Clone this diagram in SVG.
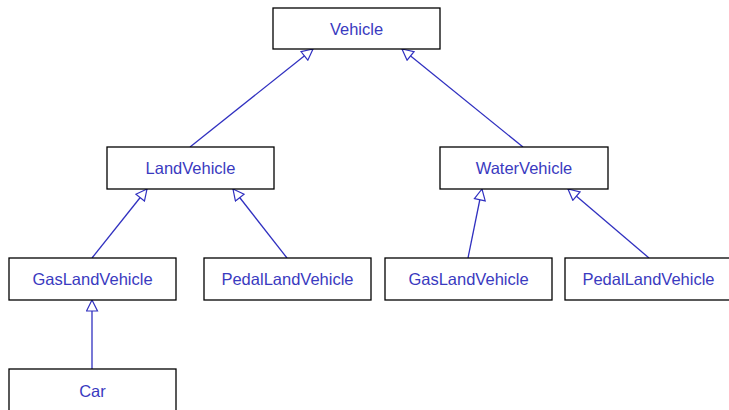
<svg xmlns="http://www.w3.org/2000/svg" width="729" height="410" viewBox="0 0 729 410">
<defs>
<marker id="tri" viewBox="0 0 13 13" refX="12" refY="6.5" markerWidth="13" markerHeight="13" markerUnits="userSpaceOnUse" orient="auto">
<path d="M1,1 L12,6.5 L1,12 Z" fill="#ffffff" stroke="#3030c0" stroke-width="1.2"/>
</marker>
<style>
.box{fill:#ffffff;stroke:#000000;stroke-width:1.3}
.lbl{font-family:"Liberation Sans",Arial,sans-serif;font-size:16.5px;fill:#3a3ac0;text-anchor:middle;dominant-baseline:central}
.edge{stroke:#3030c0;stroke-width:1.3;fill:none;marker-end:url(#tri)}
</style>
</defs>
<rect width="729" height="410" fill="#ffffff"/>
<g id="connectors">
<line class="edge" x1="190" y1="147" x2="313" y2="49"/>
<line class="edge" x1="523" y1="147" x2="402" y2="49"/>
<line class="edge" x1="92" y1="258" x2="147" y2="189"/>
<line class="edge" x1="287" y1="258" x2="233" y2="189"/>
<line class="edge" x1="92" y1="369" x2="92" y2="300"/>
<line class="edge" x1="468" y1="258" x2="482" y2="189"/>
<line class="edge" x1="649" y1="258" x2="568" y2="189"/>
</g>
<g id="vehicle"><rect class="box" x="273" y="8" width="167" height="41"/><text class="lbl" x="356.5" y="29">Vehicle</text></g>
<g id="landvehicle"><rect class="box" x="107" y="147" width="167" height="42"/><text class="lbl" x="190.5" y="168">LandVehicle</text></g>
<g id="watervehicle"><rect class="box" x="440" y="147" width="168" height="42"/><text class="lbl" x="524" y="168">WaterVehicle</text></g>
<g id="gaslandvehicle1"><rect class="box" x="9" y="258" width="167" height="42"/><text class="lbl" x="92.5" y="279">GasLandVehicle</text></g>
<g id="pedallandvehicle1"><rect class="box" x="204" y="258" width="167" height="42"/><text class="lbl" x="287.5" y="279">PedalLandVehicle</text></g>
<g id="gaslandvehicle2"><rect class="box" x="385" y="258" width="167" height="42"/><text class="lbl" x="468.5" y="279">GasLandVehicle</text></g>
<g id="pedallandvehicle2"><rect class="box" x="565" y="258" width="167" height="42"/><text class="lbl" x="648.5" y="279">PedalLandVehicle</text></g>
<g id="car"><rect class="box" x="9" y="369" width="167" height="45"/><text class="lbl" x="92.5" y="391">Car</text></g>
</svg>
